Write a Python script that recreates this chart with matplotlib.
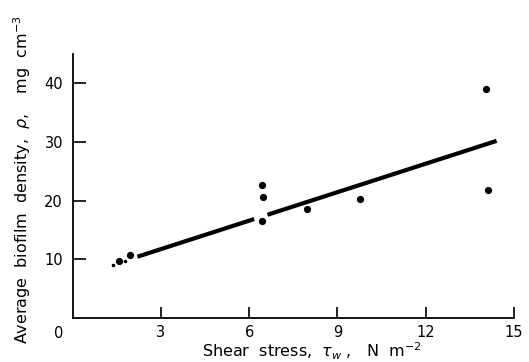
import matplotlib
matplotlib.use("Agg")
import matplotlib.pyplot as plt
import numpy as np

# data points (shear stress, density)
shear = [1.57, 1.95, 6.44, 6.47, 6.43, 7.95, 9.75, 14.05, 14.12]
density = [9.7, 10.7, 22.6, 20.6, 16.6, 18.5, 20.3, 39.0, 21.8]

# fitted line
line_slope = 1.617
line_intercept = 6.89
line_seg1 = [2.2, 6.17]
line_seg2 = [6.62, 14.41]
dotted_x = [1.36, 1.78]

xticks = [3, 6, 9, 12, 15]
yticks = [10, 20, 30, 40]

fig = plt.figure(figsize=(5.29, 3.62), dpi=100)
ax = fig.add_axes([0.1374, 0.1215, 0.8342, 0.7295])
ax.set_xlim(0, 15)
ax.set_ylim(0, 45)

for seg in (line_seg1, line_seg2):
    xs = np.array(seg)
    ax.plot(xs, line_slope * xs + line_intercept, color="black", lw=3.0,
            solid_capstyle="butt")
dx = np.array(dotted_x)
ax.plot(dx, line_slope * dx + line_intercept, "o", color="black", ms=1.6)

ax.plot(shear, density, "o", color="black", ms=4.2)

for s in ("top", "right"):
    ax.spines[s].set_visible(False)
for s in ("left", "bottom"):
    ax.spines[s].set_linewidth(1.3)

fs = 10.5
ax.set_xticks(xticks)
ax.set_yticks(yticks)
ax.tick_params(axis="x", direction="in", length=8, width=1.2, pad=5, labelsize=fs)
ax.tick_params(axis="y", direction="in", length=9, width=1.2, pad=7, labelsize=fs)
ax.text(-0.02, -0.03, "0", transform=ax.transAxes, ha="right", va="top", fontsize=fs)

fig.text(0.59, 0.012, r"Shear  stress,  $\tau_w$ ,   N  m$^{-2}$", ha="center",
         va="baseline", fontsize=11.5)
fig.text(0.042, 0.503, r"Average  biofilm  density,  $\rho$,    mg  cm$^{-3}$",
         rotation=90, ha="center", va="center", fontsize=11.5)

fig.savefig("out.png", dpi=100)
